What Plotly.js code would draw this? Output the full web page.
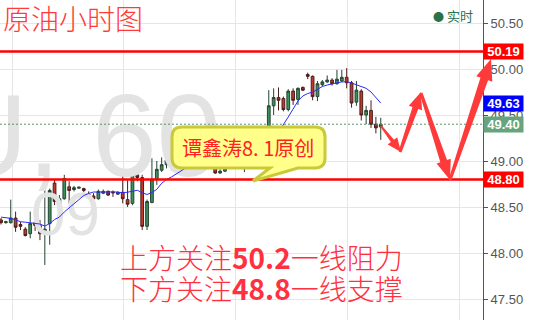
<!DOCTYPE html>
<html>
<head>
<meta charset="utf-8">
<script src="https://cdn.plot.ly/plotly-3.0.1.min.js"></script>
<style>
  html, body { margin: 0; padding: 0; background: #fff; }
  #chart { width: 540px; height: 320px; }
</style>
</head>
<body>
<div id="chart"></div>
<script>
// Hourly crude oil bars (open / high / low / close)
const opens = [
  48.36, 48.33, 48.33, 48.38, 48.31, 48.26, 48.21, 48.33, 48.30, 48.21,
  48.32, 48.76, 48.54, 48.59, 48.72, 48.69, 48.705, 48.70, 48.64, 48.62,
  48.59, 48.65, 48.67, 48.66, 48.64, 48.66, 48.58, 48.54, 48.85, 48.82,
  48.29, 48.55, 48.80, 48.90, 48.96, 48.93, 49.09, 49.15, 49.08, 49.12,
  49.03, 49.05, 48.98, 49.00, 48.95, 48.87, 48.89, 48.93, 48.96, 49.00,
  48.97, 49.02, 49.06, 49.04, 49.12, 49.20, 49.60, 49.69, 49.68, 49.56,
  49.76, 49.67, 49.80, 49.94, 49.92, 49.70, 49.83, 49.86, 49.88, 49.84,
  49.87, 49.91, 49.85, 49.64, 49.76, 49.50, 49.55, 49.40, 49.37
];
const highs = [
  48.38, 48.35, 48.58, 48.45, 48.34, 48.28, 48.45, 48.38, 48.36, 48.87,
  48.70, 48.80, 48.63, 48.85, 48.78, 48.73, 48.72, 48.71, 48.67, 48.65,
  48.69, 48.69, 48.68, 48.68, 48.67, 48.90, 48.79, 48.92, 48.90, 48.85,
  48.58, 49.03, 49.00, 49.04, 49.17, 49.15, 49.20, 49.18, 49.16, 49.14,
  49.10, 49.07, 49.03, 49.02, 48.97, 48.91, 48.95, 48.99, 49.03, 49.04,
  49.06, 49.10, 49.10, 49.16, 49.25, 49.77, 49.79, 49.80, 49.70, 49.78,
  49.79, 49.80, 49.81, 49.96, 49.93, 49.87, 49.88, 49.93, 49.90, 49.99,
  49.99, 50.01, 49.87, 49.87, 49.78, 49.60, 49.66, 49.48, 49.47
];
const lows = [
  48.31, 48.32, 48.32, 48.23, 48.25, 48.18, 48.16, 48.24, 48.14, 47.87,
  48.09, 48.52, 48.49, 48.58, 48.54, 48.67, 48.70, 48.66, 48.59, 48.56,
  48.58, 48.64, 48.62, 48.61, 48.63, 48.54, 48.50, 48.52, 48.78, 48.25,
  48.25, 48.54, 48.74, 48.88, 48.92, 48.90, 49.05, 49.04, 49.03, 49.00,
  48.98, 48.95, 48.94, 48.92, 48.86, 48.86, 48.88, 48.92, 48.94, 48.94,
  48.88, 48.99, 49.00, 49.02, 49.08, 49.15, 49.50, 49.55, 49.54, 49.54,
  49.61, 49.61, 49.76, 49.89, 49.66, 49.65, 49.81, 49.85, 49.82, 49.83,
  49.86, 49.79, 49.58, 49.60, 49.44, 49.40, 49.36, 49.30, 49.23
];
const closes = [
  48.33, 48.34, 48.38, 48.28, 48.29, 48.19, 48.32, 48.30, 48.21, 48.26,
  48.68, 48.56, 48.59, 48.81, 48.68, 48.71, 48.715, 48.68, 48.61, 48.59,
  48.67, 48.67, 48.63, 48.655, 48.66, 48.59, 48.53, 48.86, 48.82, 48.29,
  48.56, 48.80, 48.91, 48.96, 49.01, 49.09, 49.15, 49.08, 49.12, 49.03,
  49.05, 48.98, 49.00, 48.95, 48.87, 48.89, 48.92, 48.96, 49.00, 48.97,
  49.02, 49.06, 49.04, 49.12, 49.20, 49.60, 49.69, 49.66, 49.56, 49.76,
  49.66, 49.79, 49.77, 49.92, 49.70, 49.84, 49.86, 49.88, 49.84, 49.89,
  49.91, 49.85, 49.63, 49.77, 49.50, 49.55, 49.40, 49.36, 49.40
];
// Moving average line (blue)
const maLine = [
  48.39, 48.386, 48.377, 48.36, 48.34, 48.335, 48.329, 48.322, 48.315, 48.293,
  48.32, 48.364, 48.391, 48.446, 48.489, 48.533, 48.576, 48.625, 48.647, 48.663,
  48.663, 48.661, 48.663, 48.666, 48.661, 48.655, 48.661, 48.668, 48.682, 48.655,
  48.636, 48.658, 48.692, 48.758, 48.799, 48.826, 48.859, 48.897, 48.93, 48.96,
  48.98, 49.00, 49.01, 49.02, 49.02, 49.01, 49.00, 48.99, 48.98, 48.98,
  48.98, 48.99, 49.00, 49.03, 49.07, 49.15, 49.23, 49.31, 49.39, 49.478,
  49.565, 49.652, 49.707, 49.734, 49.748, 49.783, 49.81, 49.826, 49.842, 49.85,
  49.859, 49.862, 49.848, 49.826, 49.812, 49.79, 49.75, 49.69, 49.63
];
// Resistance / support levels
const resistance = 50.19;
const support = 48.80;
const yTicks = [47.5, 48.0, 48.5, 49.0, 49.5, 50.0, 50.5];

const bars = opens.map((_, i) => i);
const lastClose = closes[closes.length - 1];
const lastMA = maLine[maLine.length - 1];

// plot frame helpers (plot area is 483 x 320 px)
const PW = 483, PH = 320;
const px = x => (x / PW).toFixed(4);
const py = y => (1 - y / PH).toFixed(4);
const XR = [-0.205, 99.0];
const YR = [47.272, 50.75];
const dataX = p => XR[0] + p / PW * (XR[1] - XR[0]);
const dataY = p => YR[1] - p / PH * (YR[1] - YR[0]);

function arrowPath(x0, y0, x1, y1, w0, w1, H, W) {
  const dx = x1 - x0, dy = y1 - y0, L = Math.hypot(dx, dy);
  const ux = dx / L, uy = dy / L, nx = -uy, ny = ux;
  const bx = x1 - ux * H, by = y1 - uy * H;
  const pts = [
    [x0 + nx * w0, y0 + ny * w0], [bx + nx * w1, by + ny * w1], [bx + nx * W, by + ny * W],
    [x1, y1], [bx - nx * W, by - ny * W], [bx - nx * w1, by - ny * w1], [x0 - nx * w0, y0 - ny * w0]
  ];
  return 'M' + pts.map(p => px(p[0]) + ',' + py(p[1])).join('L') + 'Z';
}

function bubblePath(x1, y1, x2, y2, r, xa, xb, tx, ty) {
  return 'M' + px(x1 + r) + ',' + py(y1) +
    'L' + px(x2 - r) + ',' + py(y1) +
    'Q' + px(x2) + ',' + py(y1) + ' ' + px(x2) + ',' + py(y1 + r) +
    'L' + px(x2) + ',' + py(y2 - r) +
    'Q' + px(x2) + ',' + py(y2) + ' ' + px(x2 - r) + ',' + py(y2) +
    'L' + px(xb) + ',' + py(y2) +
    'L' + px(tx) + ',' + py(ty) +
    'L' + px(xa) + ',' + py(y2) +
    'L' + px(x1 + r) + ',' + py(y2) +
    'Q' + px(x1) + ',' + py(y2) + ' ' + px(x1) + ',' + py(y2 - r) +
    'L' + px(x1) + ',' + py(y1 + r) +
    'Q' + px(x1) + ',' + py(y1) + ' ' + px(x1 + r) + ',' + py(y1) + 'Z';
}

const cjk = '"Noto Sans CJK SC", "Noto Sans", sans-serif';
const latin = '"Liberation Sans", Arial, sans-serif';
const arrowRed = '#ff3a3a';

const traces = [
  {
    type: 'scatter', mode: 'text', hoverinfo: 'skip', cliponaxis: true,
    x: [dataX(-56), dataX(31)], y: [dataY(147), dataY(219)],
    text: ['U, 60', '09'], textposition: 'middle right',
    textfont: { family: latin, size: [116, 62], color: '#e3e3e3' }
  },
  {
    type: 'candlestick', x: bars, open: opens, high: highs, low: lows, close: closes,
    hoverinfo: 'skip',
    increasing: { line: { color: '#24442f', width: 1 }, fillcolor: '#3d8f5d' },
    decreasing: { line: { color: '#4a1d1d', width: 1 }, fillcolor: '#c0392b' }
  },
  {
    type: 'scatter', mode: 'lines', x: bars, y: maLine, hoverinfo: 'skip',
    line: { color: '#2b2bff', width: 1 }
  }
];

const shapes = [
  { type: 'line', xref: 'paper', x0: 0, x1: 1, yref: 'y', y0: lastClose, y1: lastClose,
    line: { color: '#5b8f6e', width: 1, dash: '2px,2px' }, layer: 'above' },
  { type: 'line', xref: 'paper', x0: 0, x1: 1, yref: 'y', y0: resistance, y1: resistance,
    line: { color: '#ff0000', width: 2.5 }, layer: 'above' },
  { type: 'line', xref: 'paper', x0: 0, x1: 1, yref: 'y', y0: support, y1: support,
    line: { color: '#ff0000', width: 2.5 }, layer: 'above' },
  { type: 'path', xref: 'paper', yref: 'paper', layer: 'above',
    path: bubblePath(172, 127, 325, 168, 10, 270, 298, 253, 181),
    fillcolor: '#ffff8a', line: { color: '#c9c93a', width: 3 } },
  { type: 'path', xref: 'paper', yref: 'paper', layer: 'above',
    path: arrowPath(381, 126, 401, 152, 1, 2, 14, 6), fillcolor: arrowRed, line: { width: 0 } },
  { type: 'path', xref: 'paper', yref: 'paper', layer: 'above',
    path: arrowPath(400, 152, 421, 92, 1.5, 3, 17, 7), fillcolor: arrowRed, line: { width: 0 } },
  { type: 'path', xref: 'paper', yref: 'paper', layer: 'above',
    path: arrowPath(421, 93, 450, 180, 1.5, 3.5, 20, 7.5), fillcolor: arrowRed, line: { width: 0 } },
  { type: 'path', xref: 'paper', yref: 'paper', layer: 'above',
    path: arrowPath(450, 180, 491, 59, 1.5, 4, 21, 8.5), fillcolor: arrowRed, line: { width: 0 } }
];

function priceTag(value, bg) {
  return {
    xref: 'paper', x: 1, xanchor: 'left', yref: 'y', y: value, yanchor: 'middle',
    text: '<b>' + value.toFixed(2) + '</b>', showarrow: false,
    bgcolor: bg, width: 37, height: 13, borderpad: 1, align: 'center',
    font: { family: latin, size: 13, color: '#ffffff' }
  };
}

const annotations = [
  { xref: 'paper', yref: 'paper', x: px(1), y: py(18), xanchor: 'left', yanchor: 'middle',
    text: '原油小时图', showarrow: false, font: { family: cjk, size: 28, color: '#ff3a3a', weight: 300 } },
  { xref: 'paper', yref: 'paper', x: px(431), y: py(15), xanchor: 'left', yanchor: 'middle',
    text: '<span style="font-size:11px">●</span> 实时', showarrow: false,
    font: { family: cjk, size: 13, color: '#2a7048' } },
  { xref: 'paper', yref: 'paper', x: px(248), y: py(147), xanchor: 'center', yanchor: 'middle',
    text: '谭鑫涛8. 1原创', showarrow: false, font: { family: cjk, size: 20, color: '#ff2222' } },
  { xref: 'paper', yref: 'paper', x: px(261), y: py(257), xanchor: 'center', yanchor: 'middle',
    text: '上方关注<b>50.2</b>一线阻力', showarrow: false,
    font: { family: cjk, size: 28, color: '#ff3040', weight: 300 } },
  { xref: 'paper', yref: 'paper', x: px(261), y: py(288), xanchor: 'center', yanchor: 'middle',
    text: '下方关注<b>48.8</b>一线支撑', showarrow: false,
    font: { family: cjk, size: 28, color: '#ff3040', weight: 300 } },
  priceTag(resistance, '#ff0000'),
  priceTag(lastMA, '#0000ff'),
  priceTag(lastClose, '#67a37c'),
  priceTag(support, '#ff0000')
];

const layout = {
  width: 540, height: 320,
  margin: { l: 0, r: 57, t: 0, b: 0, pad: 0 },
  paper_bgcolor: '#ffffff', plot_bgcolor: '#ffffff',
  showlegend: false, boxgap: 0.2,
  xaxis: {
    range: XR, showticklabels: false, ticks: '', zeroline: false,
    showgrid: true, gridcolor: '#e6e6e6', tick0: 2.26, dtick: 23,
    rangeslider: { visible: false }, fixedrange: true
  },
  yaxis: {
    side: 'right', range: YR, tickvals: yTicks, tickformat: '.2f',
    showgrid: true, gridcolor: '#e6e6e6', zeroline: false,
    showline: true, linecolor: '#555555', linewidth: 1,
    ticks: 'outside', ticklen: 4, tickcolor: '#555555',
    tickfont: { family: latin, size: 13, color: '#555555' }, fixedrange: true
  },
  shapes: shapes,
  annotations: annotations
};

Plotly.newPlot('chart', traces, layout, { displayModeBar: false, staticPlot: true });
</script>
</body>
</html>
